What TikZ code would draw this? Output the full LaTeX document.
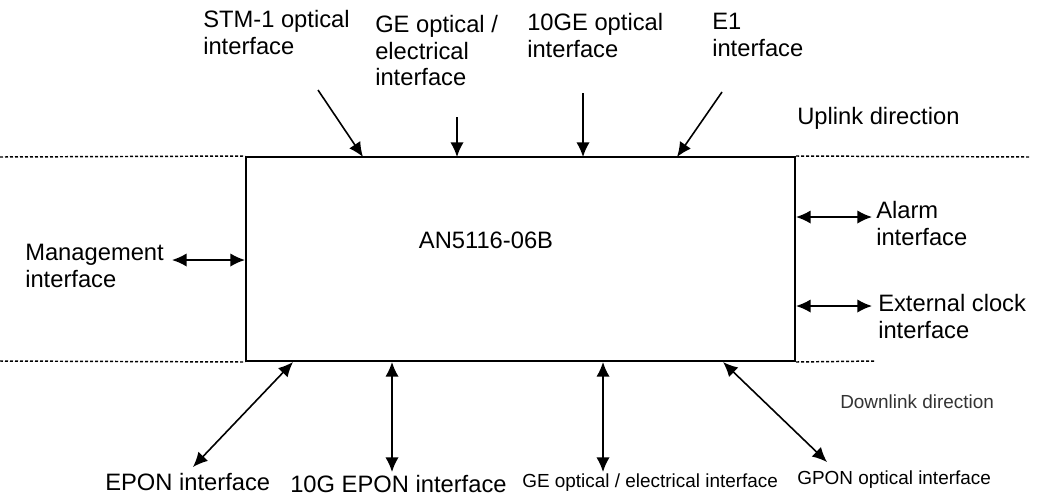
\documentclass[tikz,border=0pt]{standalone}
\usepackage{fontspec}
\setmainfont{Liberation Sans}
\usetikzlibrary{arrows.meta}

\tikzset{
  biglabel/.style={inner sep=0pt, align=left, font=\fontsize{17.8}{19.9}\selectfont},
  smalllabel/.style={inner sep=0pt, align=left, font=\fontsize{14.2}{16}\selectfont},
  oneway/.style={line width=1.2pt, -{Latex[length=11pt,width=10pt]}},
  twoway/.style={line width=1.2pt, {Latex[length=11pt,width=10pt]}-{Latex[length=11pt,width=10pt]}},
  border/.style={line width=1.1pt, dash pattern=on 2.25pt off 1.5pt}
}

\begin{document}
\begin{tikzpicture}[x=0.75pt,y=0.75pt,yscale=-1,xscale=1]
\useasboundingbox (0,0) rectangle (1037,497);

% Device
\node [draw, line width=1.5pt, minimum width=411.75pt, minimum height=153pt, inner sep=0pt] (olt) at (520.5,259) {};
\node [biglabel] (name) at (486,240) {AN5116-06B};

% Direction borders
\draw [border] (0,157) -- (olt.north west);
\draw [border] (olt.north east) -- (1030,157);
\draw [border] (0,361) -- (olt.south west);
\draw [border] (olt.south east) -- (875,361);

% Uplink labels
\node [biglabel, anchor=north west] (stm) at (203,10) {STM-1 optical\\interface};
\node [biglabel, anchor=north west] (geup) at (375,15) {GE optical /\\electrical\\interface};
\node [biglabel, anchor=north west] (tenge) at (527,13) {10GE optical\\interface};
\node [biglabel, anchor=north west] (eone) at (712,13) {E1\\interface};
\node [biglabel, anchor=west] (uplink) at (797,118) {Uplink direction};

% Side labels
\node [biglabel, anchor=north west] (mgmt) at (25,244) {Management\\interface};
\node [biglabel, anchor=north west] (alarm) at (876,201) {Alarm\\interface};
\node [biglabel, anchor=north west] (clock) at (878,294) {External clock\\interface};

% Downlink labels
\node [biglabel, anchor=west] (epon) at (105,482) {EPON interface};
\node [biglabel, anchor=west] (tenepon) at (290,484) {10G EPON interface};
\node [smalllabel, anchor=west] (gedown) at (522,483) {GE optical / electrical interface};
\node [smalllabel, anchor=west] (gpon) at (797,480) {GPON optical interface};
\node [smalllabel, anchor=west, text=black!80] (downlink) at (840,402) {Downlink direction};

% Connection ends
\coordinate (stmout) at (318,90);   \coordinate (stmin) at (363,157);
\coordinate (geout) at (457,117);   \coordinate (gein) at (457,157);
\coordinate (tenout) at (583,93);   \coordinate (tenin) at (583,157);
\coordinate (e1out) at (722,92);    \coordinate (e1in) at (677,157);
\coordinate (mgmtend) at (172,260); \coordinate (mgmtin) at (olt.west |- mgmtend);
\coordinate (alarmend) at (872,217); \coordinate (alarmin) at (olt.east |- alarmend);
\coordinate (clockend) at (872,306); \coordinate (clockin) at (olt.east |- clockend);
\coordinate (eponend) at (193,467); \coordinate (eponin) at (293,362);
\coordinate (tenend) at (392,472);  \coordinate (tenponin) at (392,362);
\coordinate (geend) at (603,472);   \coordinate (gedin) at (603,362);
\coordinate (gponend) at (827,462); \coordinate (gponin) at (723,362);

% Connection
\draw [oneway] (stmout) -- (stmin);
\draw [oneway] (geout) -- (gein);
\draw [oneway] (tenout) -- (tenin);
\draw [oneway] (e1out) -- (e1in);
% Connection
\draw [twoway] (mgmtend) -- (mgmtin);
\draw [twoway] (alarmin) -- (alarmend);
\draw [twoway] (clockin) -- (clockend);
% Connection
\draw [twoway] (eponin) -- (eponend);
\draw [twoway] (tenponin) -- (tenend);
\draw [twoway] (gedin) -- (geend);
\draw [twoway] (gponin) -- (gponend);

\end{tikzpicture}
\end{document}
